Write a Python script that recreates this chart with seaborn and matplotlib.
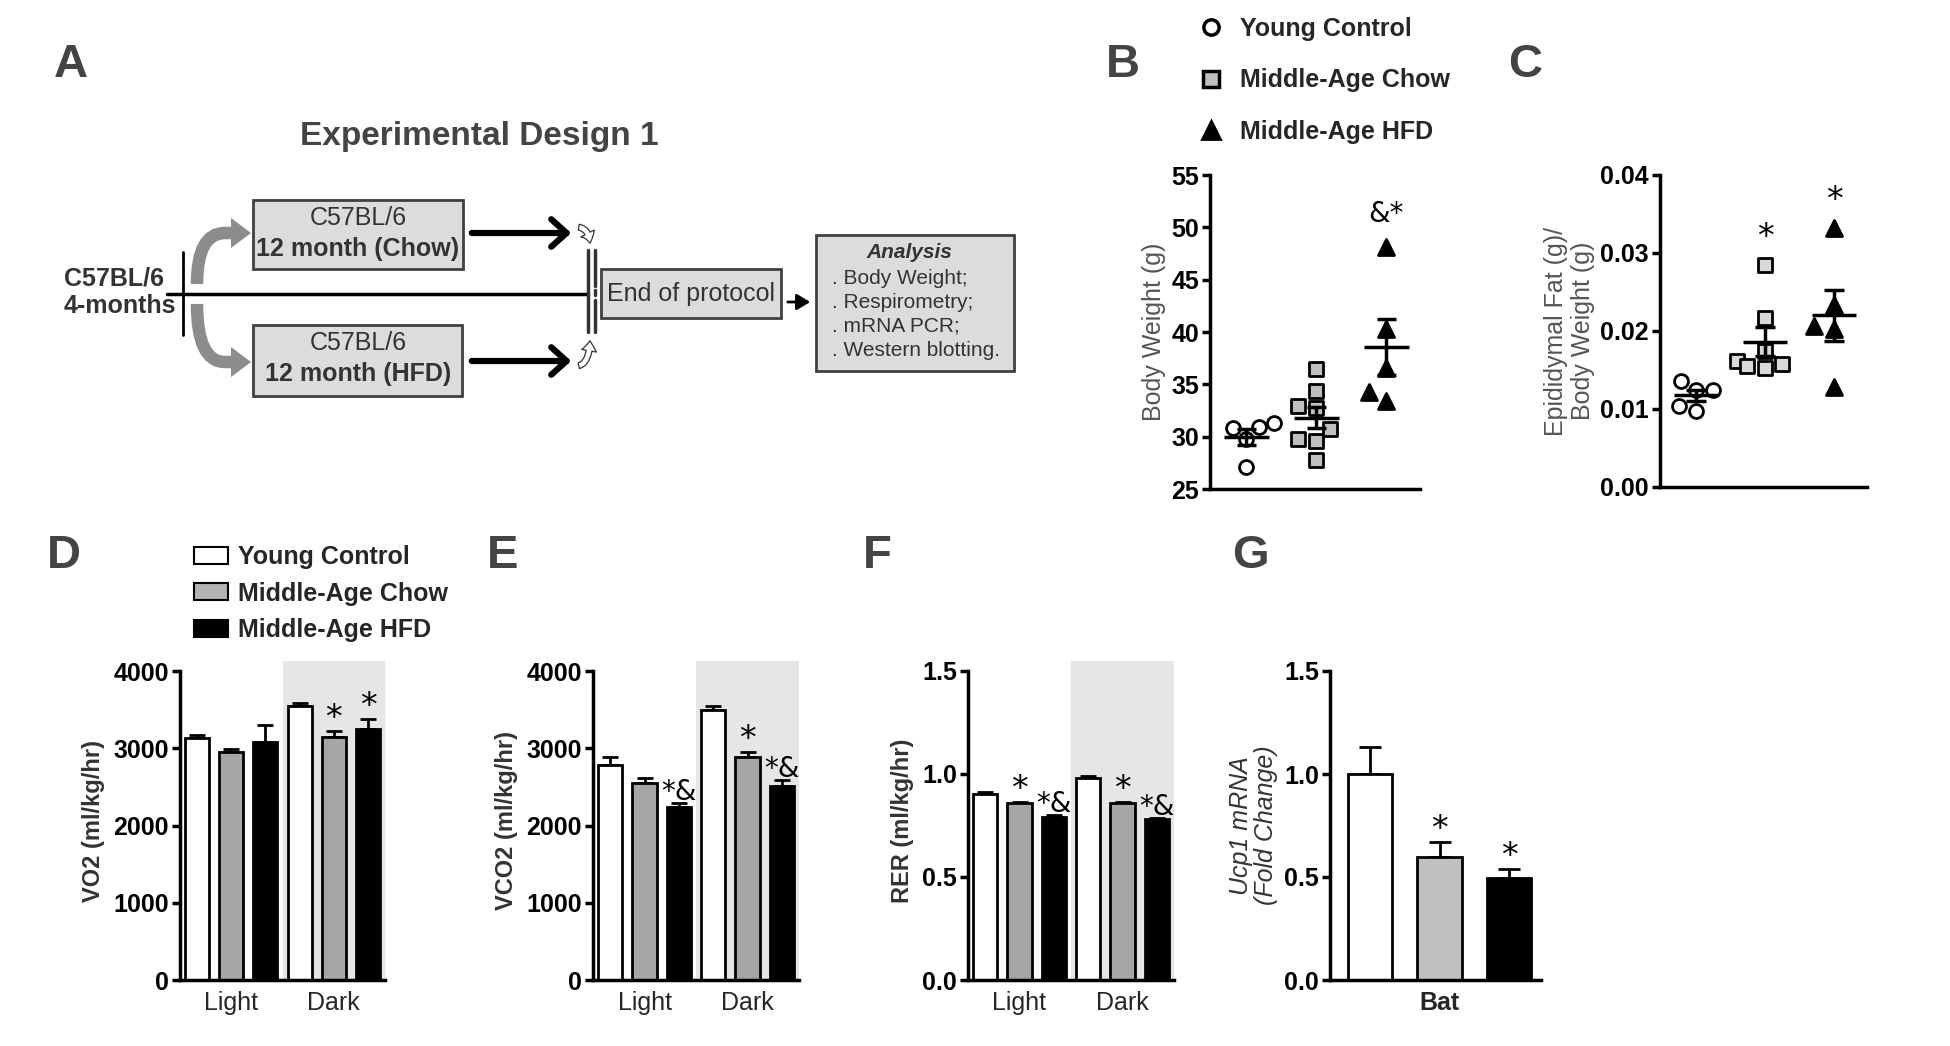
import numpy as np
import pandas as pd
import matplotlib
matplotlib.use("Agg")
import matplotlib.pyplot as plt
import seaborn as sns
from matplotlib.patches import Rectangle, FancyArrowPatch, PathPatch, Polygon, Patch
from matplotlib.path import Path
from matplotlib.lines import Line2D
from matplotlib.container import BarContainer

sns.set_theme(style="ticks")
plt.rcParams['font.family'] = ['Liberation Sans', 'DejaVu Sans']

# ---------------- data ----------------
groups = ["Young Control", "Middle-Age Chow", "Middle-Age HFD"]
periods = ["Light", "Dark"]

# B: body weight (g), one value per mouse
bw_young = [31.3, 30.8, 30.9, 29.8, 27.1]
bw_chow = [36.5, 34.4, 32.9, 32.7, 30.7, 29.8, 29.6, 27.8]
bw_hfd = [48.1, 40.3, 36.6, 34.3, 33.4]

# C: epididymal fat / body weight
fat_young = [0.0136, 0.0125, 0.0125, 0.0104, 0.0098]
fat_chow = [0.0284, 0.0217, 0.0175, 0.0162, 0.0158, 0.0155, 0.0152]
fat_hfd = [0.0332, 0.0233, 0.0206, 0.0202, 0.0128]

# D: VO2 (mean, SEM)
vo2_light = [3130, 2950, 3080]
vo2_dark = [3550, 3150, 3255]
vo2_light_err = [40, 45, 220]
vo2_dark_err = [40, 80, 130]

# E: VCO2
vco2_light = [2780, 2555, 2245]
vco2_dark = [3500, 2890, 2515]
vco2_light_err = [105, 65, 50]
vco2_dark_err = [50, 60, 75]

# F: RER
rer_light = [0.905, 0.86, 0.79]
rer_dark = [0.98, 0.86, 0.78]
rer_light_err = [0.010, 0.006, 0.012]
rer_dark_err = [0.008, 0.006, 0.008]

# G: Ucp1 mRNA in BAT
ucp1 = [1.0, 0.595, 0.495]
ucp1_err = [0.13, 0.075, 0.045]

# significance marks: (period, group, text)
vo2_marks = [("Dark", 1, "*"), ("Dark", 2, "*")]
vco2_marks = [("Light", 2, "*&"), ("Dark", 1, "*"), ("Dark", 2, "*&")]
rer_marks = [("Light", 1, "*"), ("Light", 2, "*&"), ("Dark", 1, "*"), ("Dark", 2, "*&")]
ucp1_marks = [(1, "*"), (2, "*")]

bar_colors = ["white", "#a6a6a6", "black"]
TXT = "#333333"
W, H = 1950, 1046

fig = plt.figure(figsize=(19.5, 10.46), dpi=100)


def ax_at(x0, y0, x1, y1):
    # pixel box (top-left origin) -> figure axes
    return fig.add_axes([x0 / W, 1 - y1 / H, (x1 - x0) / W, (y1 - y0) / H])


def style(ax, yticks, fmt, top):
    sns.despine(ax=ax)
    for s in ["left", "bottom"]:
        ax.spines[s].set_linewidth(2.5)
        ax.spines[s].set_color("black")
    ax.spines["left"].set_bounds(yticks[0], yticks[-1])
    ax.set_ylim(yticks[0], top)
    ax.set_yticks(yticks, labels=[fmt.format(t) for t in yticks],
                  fontsize=18, fontweight="bold")
    ax.tick_params(axis="y", direction="out", length=6, width=2.5, pad=2, colors="black")
    ax.tick_params(axis="x", length=0, labelsize=18, pad=8)


def mark(ax, x, y, txt, dy=2):
    size = 24 if txt == "*" else 20
    ax.annotate(txt, xy=(x, y), xytext=(0, dy), textcoords="offset points",
                ha="center", va="baseline", fontsize=size, family="DejaVu Sans",
                color="black", zorder=6)


def bar_panel(ax, light, dark, light_err, dark_err, yticks, top, fmt, ylabel, marks):
    ax.axvspan(0.5, 1.5, color="#e6e6e6", zorder=0, lw=0)
    df = pd.DataFrame({"period": np.repeat(periods, 3), "group": groups * 2,
                       "value": light + dark})
    sns.barplot(data=df, x="period", y="value", hue="group", order=periods,
                hue_order=groups, palette=bar_colors, width=1.0, gap=0.3,
                edgecolor="black", linewidth=2, errorbar=None, legend=False,
                ax=ax, zorder=2)
    errs = [light_err, dark_err]
    tops = {}
    conts = [c for c in ax.containers if isinstance(c, BarContainer)]
    for gi, cont in enumerate(conts):
        for pi, bar in enumerate(cont):
            xc = bar.get_x() + bar.get_width() / 2
            h = bar.get_height()
            e = errs[pi][gi]
            ax.errorbar(xc, h, yerr=[[0], [e]], fmt="none", ecolor="black",
                        elinewidth=2, capsize=6, capthick=2, zorder=1)
            tops[(periods[pi], gi)] = (xc, h + e)
    for p, g, t in marks:
        xc, yt = tops[(p, g)]
        mark(ax, xc, yt, t)
    ax.set_xlim(-0.5, 1.5)
    style(ax, yticks, fmt, top)
    ax.set_xlabel("")
    ax.set_ylabel(ylabel, fontsize=17, fontweight="bold", color=TXT, labelpad=6)


def dot_panel(ax, data, fills, yticks, fmt, ylabel, marks):
    markers = ["o", "s", "^"]
    sizes = [10, 10.5, 11.5]
    for i, (vals, m, fc, sz) in enumerate(zip(data, markers, fills, sizes)):
        sns.swarmplot(x=[groups[i]] * len(vals), y=vals, order=groups, marker=m,
                      color=fc, edgecolor="black", linewidth=2, size=sz, ax=ax,
                      zorder=3, warn_thresh=1)
        mu = np.mean(vals)
        sem = np.std(vals, ddof=1) / np.sqrt(len(vals))
        ax.hlines(mu, i - 0.32, i + 0.32, color="black", lw=2.5, zorder=4)
        ax.vlines(i, mu - sem, mu + sem, color="black", lw=2.5, zorder=4)
        ax.hlines([mu - sem, mu + sem], i - 0.14, i + 0.14, color="black", lw=2.5, zorder=4)
    for gi, t, dy in marks:
        mark(ax, gi, max(data[gi]), t, dy=dy)
    ax.set_xlim(-0.52, 2.48)
    style(ax, yticks, fmt, yticks[-1])
    ax.set_xticks([])
    ax.set_ylabel(ylabel, fontsize=18, color="#555555", labelpad=4, linespacing=1.15)


# ---------------- panels B, C ----------------
axB = ax_at(1210, 175, 1420, 489)
dot_panel(axB, [bw_young, bw_chow, bw_hfd], ["white", "#bfbfbf", "black"],
          [25, 30, 35, 40, 45, 50, 55], "{:.0f}", "Body Weight (g)",
          [(2, "&*", 18)])

axC = ax_at(1660, 175, 1867, 487)
dot_panel(axC, [fat_young, fat_chow, fat_hfd], ["white", "#d9d9d9", "black"],
          [0.0, 0.01, 0.02, 0.03, 0.04], "{:.2f}",
          "Epididymal Fat (g)/\nBody Weight (g)", [(1, "*", 13), (2, "*", 13)])

# ---------------- panels D, E, F ----------------
axD = ax_at(180, 661, 385, 980)
bar_panel(axD, vo2_light, vo2_dark, vo2_light_err, vo2_dark_err,
          [0, 1000, 2000, 3000, 4000], 4130, "{:.0f}", "VO2 (ml/kg/hr)", vo2_marks)

axE = ax_at(593, 661, 799, 980)
bar_panel(axE, vco2_light, vco2_dark, vco2_light_err, vco2_dark_err,
          [0, 1000, 2000, 3000, 4000], 4130, "{:.0f}", "VCO2 (ml/kg/hr)", vco2_marks)

axF = ax_at(968, 661, 1174, 980)
bar_panel(axF, rer_light, rer_dark, rer_light_err, rer_dark_err,
          [0.0, 0.5, 1.0, 1.5], 1.5485, "{:.1f}", "RER (ml/kg/hr)", rer_marks)

# ---------------- panel G ----------------
axG = ax_at(1330, 671, 1541, 980)
dfg = pd.DataFrame({"group": groups, "value": ucp1})
sns.barplot(data=dfg, x="group", y="value", hue="group", order=groups, hue_order=groups,
            palette=["white", "#c0c0c0", "black"], width=0.64, edgecolor="black",
            linewidth=2, errorbar=None, legend=False, ax=axG, zorder=2)
gtops = []
gconts = [c for c in axG.containers if isinstance(c, BarContainer)]
for gi, cont in enumerate(gconts):
    bar = cont[0]
    xc = bar.get_x() + bar.get_width() / 2
    axG.errorbar(xc, bar.get_height(), yerr=[[0], [ucp1_err[gi]]], fmt="none",
                 ecolor="black", elinewidth=2, capsize=8, capthick=2, zorder=1)
    gtops.append((xc, bar.get_height() + ucp1_err[gi]))
for gi, t in ucp1_marks:
    mark(axG, gtops[gi][0], gtops[gi][1], t)
axG.set_xlim(-0.58, 2.46)
style(axG, [0.0, 0.5, 1.0, 1.5], "{:.1f}", 1.5)
axG.set_xticks([1], labels=["Bat"], fontsize=18, fontweight="bold")
axG.set_xlabel("")
axG.set_ylabel("Ucp1 mRNA\n(Fold Change)", fontsize=18, style="italic", color=TXT,
               labelpad=4, linespacing=1.1)

# ---------------- legends ----------------
leg_b = [Line2D([], [], marker="o", ls="", mfc="white", mec="black", mew=2.5, ms=11),
         Line2D([], [], marker="s", ls="", mfc="#bfbfbf", mec="black", mew=2.5, ms=11),
         Line2D([], [], marker="^", ls="", mfc="black", mec="black", mew=2, ms=13)]
fig.legend(handles=leg_b, labels=groups, loc="upper left",
           bbox_to_anchor=(1198 / W, 1 - 17 / H), frameon=False,
           prop={"weight": "bold", "size": 18}, handlelength=1.0, handletextpad=0.7,
           labelspacing=1.1, borderpad=0, borderaxespad=0)

leg_d = [Patch(fc=c, ec="black", lw=1.5) for c in ["white", "#b3b3b3", "black"]]
fig.legend(handles=leg_d, labels=groups, loc="upper left",
           bbox_to_anchor=(194 / W, 1 - 545 / H), frameon=False,
           prop={"weight": "bold", "size": 18}, handlelength=1.36, handleheight=0.68,
           handletextpad=0.4, labelspacing=0.5, borderpad=0, borderaxespad=0)

# ---------------- overlay: letters and design diagram ----------------
ax0 = fig.add_axes([0, 0, 1, 1], zorder=-1)
ax0.set_xlim(0, W)
ax0.set_ylim(H, 0)
ax0.axis("off")

for letter, (lx, ly) in {"A": (71, 65), "B": (1123, 65), "C": (1525, 65),
                         "D": (64, 556), "E": (503, 556), "F": (877, 556),
                         "G": (1250, 556)}.items():
    ax0.text(lx, ly, letter, fontsize=34, fontweight="bold", color="#444444",
             ha="center", va="center")

ax0.text(479, 136, "Experimental Design 1", fontsize=24, fontweight="bold",
         color="#444444", ha="center", va="center")

box_kw = dict(fc="#dcdcdc", ec="#404040", lw=2)
ax0.add_patch(Rectangle((253, 200), 210, 69, **box_kw))
ax0.add_patch(Rectangle((253, 325), 209, 71, **box_kw))
ax0.add_patch(Rectangle((601, 269), 180, 49, **box_kw))
ax0.add_patch(Rectangle((816, 235), 198, 136, **box_kw))

ax0.text(358, 218, "C57BL/6", fontsize=18, color=TXT, ha="center", va="center")
ax0.text(358, 249, "12 month (Chow)", fontsize=18, fontweight="bold", color=TXT,
         ha="center", va="center")
ax0.text(358, 343, "C57BL/6", fontsize=18, color=TXT, ha="center", va="center")
ax0.text(358, 374, "12 month (HFD)", fontsize=18, fontweight="bold", color=TXT,
         ha="center", va="center")
ax0.text(64, 279, "C57BL/6", fontsize=18, fontweight="bold", color=TXT, va="center")
ax0.text(64, 306, "4-months", fontsize=18, fontweight="bold", color=TXT, va="center")
ax0.text(691, 294, "End of protocol", fontsize=18, color=TXT, ha="center", va="center")
ax0.text(909, 253, "Analysis", fontsize=15, fontweight="bold", style="italic",
         color=TXT, ha="center", va="center")
for yy, line in zip([278, 302, 326, 351],
                    [". Body Weight;", ". Respirometry;", ". mRNA PCR;",
                     ". Western blotting."]):
    ax0.text(832, yy, line, fontsize=15, color=TXT, va="center")

# timeline
ax0.plot([167, 588], [294, 294], color="black", lw=2.5)
ax0.plot([183, 183], [252, 335], color="black", lw=2)
ax0.plot([588, 588], [250, 332], color="#333333", lw=2.5)
ax0.plot([595, 595], [250, 286], color="#333333", lw=2.5)
ax0.plot([595, 595], [300, 332], color="#333333", lw=2.5)
ax0.plot([595, 595], [290, 295], color="#333333", lw=2.5)

# grey bent arrows
up = Path([(197, 284), (197, 233), (225, 233), (234, 233)],
          [Path.MOVETO, Path.CURVE3, Path.CURVE3, Path.LINETO])
down = Path([(197, 304), (197, 362), (225, 362), (234, 362)],
            [Path.MOVETO, Path.CURVE3, Path.CURVE3, Path.LINETO])
for p in (up, down):
    ax0.add_patch(PathPatch(p, fc="none", ec="#8c8c8c", lw=9, capstyle="butt"))
ax0.add_patch(Polygon([(231, 218), (251, 233), (231, 248)], fc="#8c8c8c", ec="none"))
ax0.add_patch(Polygon([(231, 347), (251, 362), (231, 377)], fc="#8c8c8c", ec="none"))

# black arrows
for yy in (233, 361):
    ax0.add_patch(FancyArrowPatch((469, yy), (574, yy), arrowstyle="->,head_length=0.5,head_width=0.45",
                                  mutation_scale=22, lw=4.5, color="black"))
ax0.add_patch(FancyArrowPatch((785, 302), (813, 302), arrowstyle="-|>,head_length=0.5,head_width=0.3",
                              mutation_scale=16, lw=2, color="black"))

# small hook arrows into the end bar
for a, b in [((576, 227), (590, 246)), ((576, 366), (590, 338))]:
    ax0.add_patch(FancyArrowPatch(a, b, connectionstyle="angle3,angleA=0,angleB=90",
                                  arrowstyle="simple,head_width=0.9,head_length=0.6,tail_width=0.35",
                                  mutation_scale=12, fc="white", ec="#333333", lw=0.9))

fig.savefig("out.png", dpi=100)
